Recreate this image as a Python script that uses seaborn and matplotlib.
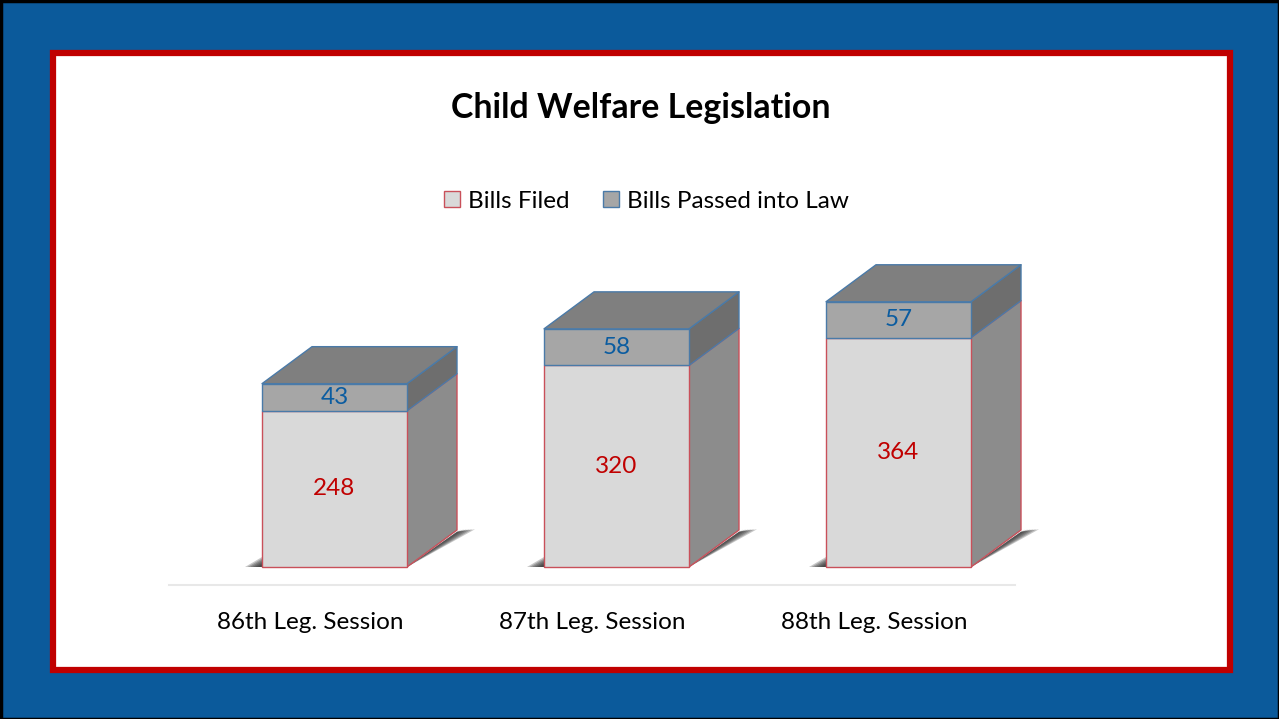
import matplotlib
matplotlib.use('Agg')
import matplotlib.pyplot as plt
from matplotlib.patches import Polygon, Rectangle
import pandas as pd
import seaborn as sns

sessions = ['86th Leg. Session', '87th Leg. Session', '88th Leg. Session']
bills_filed = [248, 320, 364]
bills_passed = [43, 58, 57]

W, H = 1279, 719
sns.set_theme(style='white')
plt.rcParams['font.family'] = ['Lato', 'DejaVu Sans']

data = pd.DataFrame({'session': sessions, 'filed': bills_filed, 'passed': bills_passed})

fig = plt.figure(figsize=(W / 100, H / 100), dpi=100, facecolor='#0B5A9B')

# frame, drawn in pixel coordinates
bg = fig.add_axes([0, 0, 1, 1])
bg.set_xlim(0, W)
bg.set_ylim(H, 0)
bg.axis('off')
bg.add_patch(Rectangle((0.5, 0.5), W - 1, H - 1, fc='none', ec='black', lw=2.5))
bg.add_patch(Rectangle((52.5, 52.5), 1177, 617, fc='white', ec='#C00000', lw=4.5))

# plot area: 282 px per category, 0.63 px per bill
left, right, bottom, top = 169, 1015, 585, 250
px_cat = 282
px_val = 0.63
ax = fig.add_axes([left / W, 1 - bottom / H, (right - left) / W, (bottom - top) / H])
ax.patch.set_alpha(0)

bar_w = 145 / px_cat
sns.barplot(data=data, x='session', y='filed', ax=ax, width=bar_w, color='#D9D9D9',
            saturation=1, edgecolor='#C9505A', linewidth=1, label='Bills Filed', zorder=3)
sns.barplot(data=data, x='session', y='passed', bottom=data['filed'], ax=ax, width=bar_w,
            color='#A6A6A6', saturation=1, edgecolor='#4A7AA8', linewidth=1,
            label='Bills Passed into Law', zorder=3)

ax.set_xlim((left - 334.5) / px_cat, (right - 334.5) / px_cat)
ax.set_ylim(-18 / px_val, (bottom - 18 - top) / px_val)

# depth of the fake 3d boxes
dx = 50 / px_cat
dy = 37 / px_val


def face(points, fc, ec, z=2, lw=1.0, alpha=1.0):
    ax.add_patch(Polygon(points, closed=True, fc=fc, ec=ec, lw=lw, alpha=alpha, zorder=z,
                         joinstyle='round', clip_on=False))


for i, (f, p) in enumerate(zip(bills_filed, bills_passed)):
    x0 = i - bar_w / 2
    x1 = i + bar_w / 2
    t = f + p
    # floor shadow, layered so it fades out at the tips
    for k in [1.0, 0.85, 0.7, 0.55, 0.4, 0.25]:
        face([(x1, 0), (x1 + dx + k * 0.36 * dx, dy * 1.02), (x1 + dx, dy * 0.95)],
             '#222222', 'none', z=1, lw=0, alpha=0.25)
        face([(x0 - k * 17 / px_cat, 0), (x0, k * 10 / px_val), (x0, 0)],
             '#222222', 'none', z=1, lw=0, alpha=0.25)
    # side faces
    face([(x1, 0), (x1 + dx, dy), (x1 + dx, f + dy), (x1, f)], '#8C8C8C', '#C9505A')
    face([(x1, f), (x1 + dx, f + dy), (x1 + dx, t + dy), (x1, t)], '#6E6E6E', '#4A7AA8')
    # top face
    face([(x0, t), (x1, t), (x1 + dx, t + dy), (x0 + dx, t + dy)], '#7F7F7F', '#4A7AA8')
    ax.text(i, f / 2, str(f), color='#C00000', fontsize=17.5, ha='center', va='center', zorder=4)
    ax.text(i, f + p / 2, str(p), color='#0B5CA0', fontsize=17.5, ha='center', va='center', zorder=4)

sns.despine(ax=ax, left=True)
ax.spines['bottom'].set_color('#E8E8E8')
ax.spines['bottom'].set_linewidth(1.5)
ax.set_xlabel('')
ax.set_ylabel('')
ax.set_yticks([])
ax.set_xticks([i - 24 / px_cat for i in range(len(sessions))], sessions)
ax.tick_params(axis='x', length=0, pad=19.3, labelsize=17.5, labelcolor='black')

leg = ax.legend(loc='center', bbox_to_anchor=(646.5 / W, 1 - 201 / H),
                bbox_transform=fig.transFigure, ncol=2, frameon=False, fontsize=17.5,
                handlelength=0.66, handleheight=0.66, handletextpad=0.33, columnspacing=1.4,
                borderpad=0, labelcolor='black')

fig.text(641 / W, 1 - 108 / H, 'Child Welfare Legislation', fontsize=24.4, fontweight='bold',
         color='black', ha='center', va='center')

fig.savefig('out.png', dpi=100, facecolor=fig.get_facecolor())
